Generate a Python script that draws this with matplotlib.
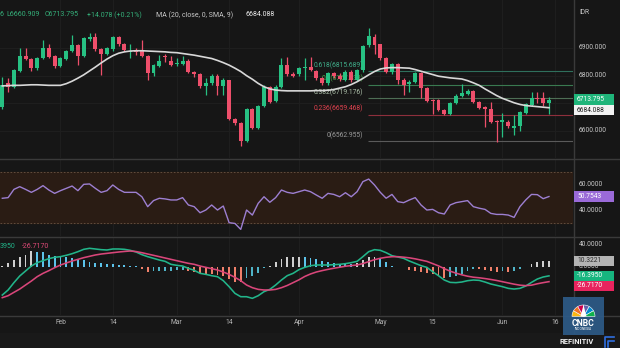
import matplotlib
matplotlib.use("Agg")
import matplotlib.pyplot as plt
from matplotlib.patches import Rectangle, Wedge, Polygon

plt.rcParams['font.family'] = ['Roboto', 'DejaVu Sans']

# ---------------- data ----------------
bars = list(range(95))
opens = [6688, 6773, 6760, 6817, 6872, 6859, 6827, 6865, 6899, 6872,
         6836, 6859, 6889, 6911, 6872, 6932, 6939, 6895, 6877, 6895,
         6939, 6913, 6887, 6889, 6893, 6872, 6808, 6836, 6870, 6852,
         6843, 6842, 6854, 6814, 6805, 6764, 6772, 6797, 6764, 6784,
         6643, 6628, 6564, 6678, 6612, 6691, 6760, 6707, 6760, 6839,
         6806, 6805, 6827, 6833, 6818, 6792, 6772, 6808, 6800, 6784,
         6815, 6784, 6820, 6911, 6941, 6913, 6863, 6812, 6841, 6786,
         6770, 6778, 6811, 6757, 6712, 6712, 6676, 6661, 6700, 6728,
         6734, 6745, 6704, 6688, 6680, 6635, 6632, 6634, 6612, 6619,
         6664, 6694, 6720, 6718, 6699.717]
highs = [6796, 6790, 6825, 6899, 6901, 6864, 6866, 6929, 6915, 6876,
         6866, 6893, 6947, 6915, 6940, 6955, 6955, 6900, 6903, 6943,
         6943, 6918, 6915, 6900, 6930, 6876, 6843, 6875, 6878, 6870,
         6862, 6870, 6860, 6818, 6810, 6790, 6805, 6805, 6790, 6786,
         6648, 6632, 6682, 6682, 6695, 6765, 6764, 6765, 6863, 6866,
         6812, 6832, 6863, 6866, 6822, 6796, 6815, 6815, 6808, 6820,
         6820, 6825, 6912, 6971, 6952, 6916, 6866, 6845, 6845, 6790,
         6785, 6815, 6815, 6760, 6715, 6716, 6680, 6703, 6732, 6770,
         6750, 6748, 6708, 6692, 6705, 6640, 6664, 6640, 6658, 6672,
         6700, 6740, 6742, 6740, 6722]
lows = [6680, 6742, 6755, 6812, 6855, 6818, 6822, 6860, 6865, 6826,
        6832, 6855, 6885, 6840, 6868, 6925, 6890, 6802, 6873, 6890,
        6908, 6888, 6865, 6875, 6868, 6784, 6800, 6832, 6850, 6836,
        6835, 6838, 6810, 6795, 6755, 6730, 6768, 6730, 6730, 6640,
        6620, 6547, 6560, 6608, 6608, 6688, 6700, 6703, 6755, 6800,
        6795, 6800, 6784, 6816, 6785, 6766, 6768, 6790, 6780, 6780,
        6778, 6780, 6815, 6905, 6880, 6855, 6808, 6805, 6770, 6730,
        6740, 6774, 6718, 6704, 6660, 6672, 6656, 6657, 6697, 6724,
        6730, 6700, 6680, 6616, 6630, 6561, 6580, 6612, 6585, 6600,
        6660, 6690, 6700, 6690, 6660.909]
closes = [6766, 6760, 6820, 6872, 6859, 6827, 6862, 6899, 6869, 6836,
          6862, 6889, 6911, 6872, 6935, 6939, 6896, 6877, 6899, 6939,
          6913, 6893, 6890, 6886, 6872, 6808, 6839, 6854, 6866, 6840,
          6846, 6854, 6814, 6805, 6764, 6775, 6799, 6764, 6786, 6643,
          6628, 6564, 6678, 6612, 6691, 6760, 6706, 6760, 6839, 6805,
          6799, 6827, 6833, 6821, 6790, 6772, 6811, 6800, 6788, 6815,
          6784, 6820, 6908, 6945, 6911, 6863, 6812, 6841, 6784, 6766,
          6778, 6811, 6757, 6708, 6708, 6676, 6661, 6700, 6728, 6736,
          6745, 6704, 6684, 6679, 6634, 6632, 6640, 6619, 6618, 6668,
          6697, 6720, 6716, 6700, 6713.795]
ma20 = [6763, 6764, 6765, 6765, 6766, 6767, 6767, 6766, 6765, 6765,
        6765, 6771, 6780, 6791, 6803, 6817, 6831, 6846, 6860, 6872,
        6881, 6886, 6889, 6890, 6890, 6889, 6888, 6887, 6886, 6884,
        6883, 6880, 6877, 6874, 6870, 6866, 6862, 6855, 6847, 6838,
        6827, 6815, 6800, 6787, 6772, 6760, 6752, 6748, 6746, 6745,
        6745, 6745, 6745, 6745, 6746, 6746, 6747, 6750, 6755, 6760,
        6768, 6778, 6790, 6803, 6815, 6824, 6828, 6829, 6829, 6828,
        6827, 6822, 6816, 6810, 6804, 6798, 6795, 6792, 6790, 6788,
        6782, 6774, 6765, 6752, 6740, 6728, 6718, 6710, 6702, 6696,
        6692, 6690, 6688, 6686, 6684.088]
rsi = [49.4, 49.9, 56.3, 58.4, 56.3, 54.0, 56.3, 59.2, 55.8, 53.2,
       55.3, 57.1, 58.9, 55.3, 60.2, 60.5, 57.1, 54.0, 55.3, 59.7,
       56.3, 54.0, 54.0, 54.0, 50.6, 42.9, 47.6, 49.4, 48.9, 48.1,
       48.1, 49.9, 44.2, 42.9, 38.2, 40.3, 44.2, 40.3, 43.4, 30.5,
       29.9, 25.3, 40.3, 36.4, 45.5, 50.6, 46.3, 49.9, 55.8, 54.0,
       53.2, 54.5, 55.8, 54.5, 51.9, 49.4, 53.2, 52.4, 50.6, 53.7,
       50.6, 54.5, 62.3, 64.3, 59.7, 54.0, 49.4, 52.4, 46.8, 46.0,
       48.1, 49.9, 44.2, 40.3, 40.8, 38.2, 37.2, 44.2, 46.0, 46.8,
       47.6, 42.9, 41.7, 40.8, 37.7, 36.9, 36.9, 36.4, 34.6, 42.9,
       48.1, 52.4, 52.2, 49.1, 50.7543]
macd = [-50.6, -41.6, -28.5, -16.6, -7.7, 1.2, 7.2, 10.7, 14.3, 16.7,
        17.9, 20.3, 23.2, 26.8, 31.0, 32.8, 31.6, 30.4, 29.8, 31.6,
        31.6, 31.0, 29.2, 26.2, 21.5, 17.9, 14.9, 11.9, 9.5, 4.2,
        2.4, 1.2, -3.0, -6.5, -11.9, -13.7, -16.1, -17.8, -25.0, -35.7,
        -47.6, -53.6, -53.6, -56.5, -51.8, -44.6, -40.5, -32.7, -23.8, -16.0,
        -11.9, -5.3, -1.2, 1.8, 3.0, 3.0, 3.0, 3.6, 4.2, 5.4,
        7.2, 9.5, 17.9, 26.8, 30.4, 29.2, 25.0, 19.7, 17.3, 14.9,
        10.1, 6.0, 1.8, -1.2, -8.9, -16.1, -23.8, -28.0, -28.5, -27.4,
        -25.0, -23.8, -24.4, -27.4, -30.9, -33.3, -35.7, -38.7, -39.9, -38.7,
        -34.5, -28.0, -22.0, -18.4, -16.395]
signal = [-55.3, -51.8, -45.8, -39.9, -32.7, -25.6, -17.8, -11.9, -7.1, -1.8,
          3.0, 6.6, 10.1, 13.1, 16.1, 18.5, 20.9, 22.6, 23.8, 25.0,
          26.2, 27.2, 28.0, 27.0, 25.0, 22.6, 20.3, 17.9, 15.5, 13.1,
          10.7, 8.3, 6.0, 4.2, 1.2, -1.2, -3.5, -5.9, -9.5, -13.7,
          -19.0, -25.0, -32.7, -37.5, -40.5, -41.6, -41.6, -40.5, -37.5, -33.5,
          -28.5, -23.5, -17.5, -13.0, -9.5, -7.0, -4.8, -2.8, -1.0, 0.8,
          2.0, 3.0, 5.5, 9.0, 12.5, 15.0, 16.8, 17.8, 17.9, 17.0,
          15.8, 14.0, 11.8, 9.5, 5.5, 1.5, -3.5, -8.0, -11.5, -14.5,
          -17.0, -18.8, -19.8, -21.2, -22.8, -24.6, -26.8, -29.0, -31.2, -33.0,
          -33.8, -33.0, -30.5, -28.5, -26.717]
hist = [2.0, 6.0, 12.0, 18.0, 21.5, 27.5, 27.0, 25.5, 21.0, 19.0,
        17.9, 16.7, 14.9, 13.7, 11.9, 8.9, 7.1, 6.0, 4.8, 4.2,
        3.0, 2.4, 1.5, 0.8, -4.0, -9.0, -8.5, -8.0, -7.5, -7.0,
        -6.5, -6.0, -8.0, -10.0, -12.0, -13.0, -13.5, -14.0, -17.0, -22.0,
        -27.0, -28.0, -20.0, -17.0, -11.0, -3.0, 1.0, 8.0, 13.0, 17.0,
        17.2, 17.9, 16.6, 15.5, 13.1, 10.1, 7.7, 6.6, 4.8, 4.6,
        4.4, 6.5, 11.9, 17.3, 17.9, 14.3, 7.7, 1.8, -0.6, -1.2,
        -5.4, -7.7, -9.5, -10.7, -13.7, -16.7, -19.7, -19.1, -16.6, -12.5,
        -7.2, -4.8, -5.0, -6.0, -8.3, -8.9, -8.3, -8.9, -7.8, -4.8,
        -0.6, 4.1, 7.8, 10.1, 10.3221]
date_ticks = [10, 19, 30, 39, 51, 65, 74, 86, 95]
date_labels = ['Feb', '14', 'Mar', '14', 'Apr', 'May', '15', 'Jun', '16']
price_ticks = [6600, 6800, 6900]
rsi_ticks = [40, 60]
macd_ticks = [40, 0]
fib_ratios = ['0', '0.236', '0.382', '0.5', '0.618']
fib_prices = [6562.955, 6659.468, 6719.176, 6767.433, 6815.689]

# ---------------- style ----------------
BG = '#161616'
GREEN = '#27c183'
RED = '#ee4f6b'
W, H = 620, 348
XL = (-0.395, 98.13)

fig = plt.figure(figsize=(6.2, 3.48), dpi=100, facecolor=BG)

def rect(x0, y0, x1, y1):
    return [x0 / W, 1 - y1 / H, (x1 - x0) / W, (y1 - y0) / H]

ax_p = fig.add_axes(rect(0, 0, 573, 158))
ax_r = fig.add_axes(rect(0, 159, 573, 236))
ax_m = fig.add_axes(rect(0, 237, 573, 315))
for ax in (ax_p, ax_r, ax_m):
    ax.set_facecolor(BG)
    for s in ax.spines.values():
        s.set_visible(False)
    ax.set_xticks([])
    ax.set_yticks([])
    ax.set_xlim(*XL)
    for t in date_ticks:
        ax.axvline(t, color='#1f1f1f', lw=0.7, zorder=0)

ax_p.set_ylim(6502.4, 7073.4)
ax_r.set_ylim(20.17, 79.84)
ax_m.set_ylim(-86.25, 53.0)

for p in [6600, 6700, 6800, 6900]:
    ax_p.axhline(p, color='#1f1f1f', lw=0.7, zorder=0)

# fibonacci retracement
fib_line_c = ['#5a5a5a', '#8e2f3c', '#4e6e55', '#3a7a50', '#2f6f5c']
fib_text_c = ['#9a9a9a', '#e0424f', '#aabda7', '#4caf50', '#3fae8a']
fib_start = 62.9
for r, p, lc, tc in zip(fib_ratios, fib_prices, fib_line_c, fib_text_c):
    ax_p.hlines(p, fib_start, XL[1], color=lc, lw=0.8, zorder=1)
    ax_p.annotate(f"{r}({p:.3f})", xy=(62.1, p), xytext=(0, 4.3),
                  textcoords='offset points', ha='right', va='center',
                  fontsize=4.9, color=tc, zorder=1.5)

# candles
cols = [GREEN if c >= o else RED for o, c in zip(opens, closes)]
ax_p.vlines(bars, lows, highs, colors=cols, lw=0.9, zorder=3)
bottoms = [min(o, c) for o, c in zip(opens, closes)]
heights = [max(abs(c - o), 2.0) for o, c in zip(opens, closes)]
ax_p.bar(bars, heights, bottom=bottoms, width=0.68, color=cols, linewidth=0, zorder=4)
ax_p.plot(bars, ma20, color='#d8d8d8', lw=1.2, zorder=5)

# RSI
ax_r.axhspan(30, 70, color='#2a1c14', zorder=0)
for lvl in (30, 70):
    ax_r.axhline(lvl, color='#6a5443', lw=0.6, ls=(0, (2, 2)), zorder=1)
ax_r.plot(bars, rsi, color='#9d7fd1', lw=1.0, zorder=3)

# MACD
hcols = []
for i, h in enumerate(hist):
    prev = hist[i - 1] if i > 0 else 0
    if h >= 0:
        hcols.append('#cfcfcf' if h >= prev else '#5cc3ea')
    else:
        hcols.append('#f0806a' if h < prev else '#4fb4c8')
ax_m.bar(bars, hist, width=0.32, color=hcols, linewidth=0, zorder=2)
ax_m.plot(bars, macd, color='#22b58a', lw=1.15, zorder=3)
ax_m.plot(bars, signal, color='#d9467a', lw=1.15, zorder=3)

for t, lab in zip(date_ticks, date_labels):
    ax_m.text(t, -0.095, lab, transform=ax_m.get_xaxis_transform(), ha='center',
              va='center', fontsize=4.9, color='#b5b5b5', clip_on=False)

# ---------------- overlay ----------------
ov = fig.add_axes([0, 0, 1, 1], zorder=20)
ov.set_xlim(0, W)
ov.set_ylim(H, 0)
ov.axis('off')
ov.patch.set_alpha(0)

ov.add_patch(Rectangle((0, 333), W, 15, fc='#191919', ec='none'))
for y in (158.5, 236.5, 315.5):
    ov.plot([0, W], [y, y], color='#3a3a3a', lw=1.0)
ov.plot([573.5, 573.5], [0, 333], color='#3a3a3a', lw=1.0)

fig.canvas.draw()

def ypix(ax, v):
    return H - ax.transData.transform((0, v))[1]

def axis_label(ax, v, s):
    ov.text(579, ypix(ax, v), s, fontsize=4.8, color='#c8c8c8', va='center', ha='left')

def box_label(ax, v, s, fc, tc, dy=0.0):
    y = ypix(ax, v) + dy
    ov.add_patch(Rectangle((574, y - 5.3), 40, 10.6, fc=fc, ec='none', zorder=5))
    ov.text(577, y, s, fontsize=4.8, color=tc, va='center', ha='left', zorder=6)

ov.text(579, 13, 'IDR', fontsize=4.8, color='#c8c8c8', va='center', ha='left')
for p in price_ticks:
    axis_label(ax_p, p, f"{p:.3f}")
box_label(ax_p, closes[-1], f"{closes[-1]:.3f}", '#1fb57a', 'white')
box_label(ax_p, ma20[-1], f"{ma20[-1]:.3f}", '#f2f2f2', '#202020', dy=2.3)

for v in rsi_ticks:
    axis_label(ax_r, v, f"{v:.4f}")
box_label(ax_r, rsi[-1], f"{rsi[-1]:.4f}", '#9a6ad8', 'white')

for v in macd_ticks:
    axis_label(ax_m, v, f"{v:.4f}")
box_label(ax_m, hist[-1], f"{hist[-1]:.4f}", '#b4b4b4', '#2a2a2a')
box_label(ax_m, macd[-1], f"{macd[-1]:.4f}", '#17b57f', 'white')
box_label(ax_m, signal[-1], f"{signal[-1]:.4f}", '#e8245e', 'white', dy=4.3)

# header texts
HG = '#35b07a'
ov.text(-1, 15, '6', fontsize=5.0, color=HG, va='center', ha='left')
ov.text(6, 15, f"L{lows[-1]:.3f}", fontsize=5.0, color=HG, va='center', ha='left')
ov.text(45, 15, f"C{closes[-1]:.3f}", fontsize=5.0, color=HG, va='center', ha='left')
ov.text(87, 15, "+14.078 (+0.21%)", fontsize=5.0, color=HG, va='center', ha='left')
ov.text(156, 15, "MA (20, close, 0, SMA, 9)", fontsize=5.0, color='#c8c8c8', va='center', ha='left')
ov.text(245, 15, f"{ma20[-1]:.3f}", fontsize=5.0, color='#ececec', va='center', ha='left')
ov.text(0, 246, f"{macd[-1]:.4f}"[-4:], fontsize=5.0, color='#22b58a', va='center', ha='left')
ov.text(22, 246, f"{signal[-1]:.4f}", fontsize=5.0, color='#e04a78', va='center', ha='left')

# CNBC logo
ov.add_patch(Rectangle((563, 297), 41, 38, fc='#2d5b88', ec='none', alpha=0.92, zorder=7))
feather = ['#fcb711', '#f37021', '#cc004c', '#6460aa', '#0089d0', '#0db14b']
for k, c in enumerate(feather):
    ov.add_patch(Wedge((583.5, 316.5), 11.5, 180 + 30 * k, 210 + 30 * k, fc=c, ec='white', lw=0.4, zorder=8))
ov.add_patch(Polygon([[583.5, 305], [580.5, 316.5], [586.5, 316.5]], closed=True, fc='white', ec='none', zorder=9))
ov.text(583.5, 323.5, 'CNBC', fontsize=6.2, fontweight='bold', color='white', ha='center', va='center', zorder=9)
ov.text(583.5, 328.8, 'INDONESIA', fontsize=2.4, color='white', ha='center', va='center', zorder=9)

# REFINITIV
ov.text(576.5, 341.5, 'REFINITIV', fontsize=5.4, fontweight='bold', color='#f0f0f0', ha='center', va='center')
ov.plot([605, 605, 614], [347, 337, 337], color='#2f6fe0', lw=1.2)
ov.plot([608, 608, 614], [347, 341, 341], color='#2f6fe0', lw=1.2)

fig.savefig('out.png', dpi=100, facecolor=BG)
